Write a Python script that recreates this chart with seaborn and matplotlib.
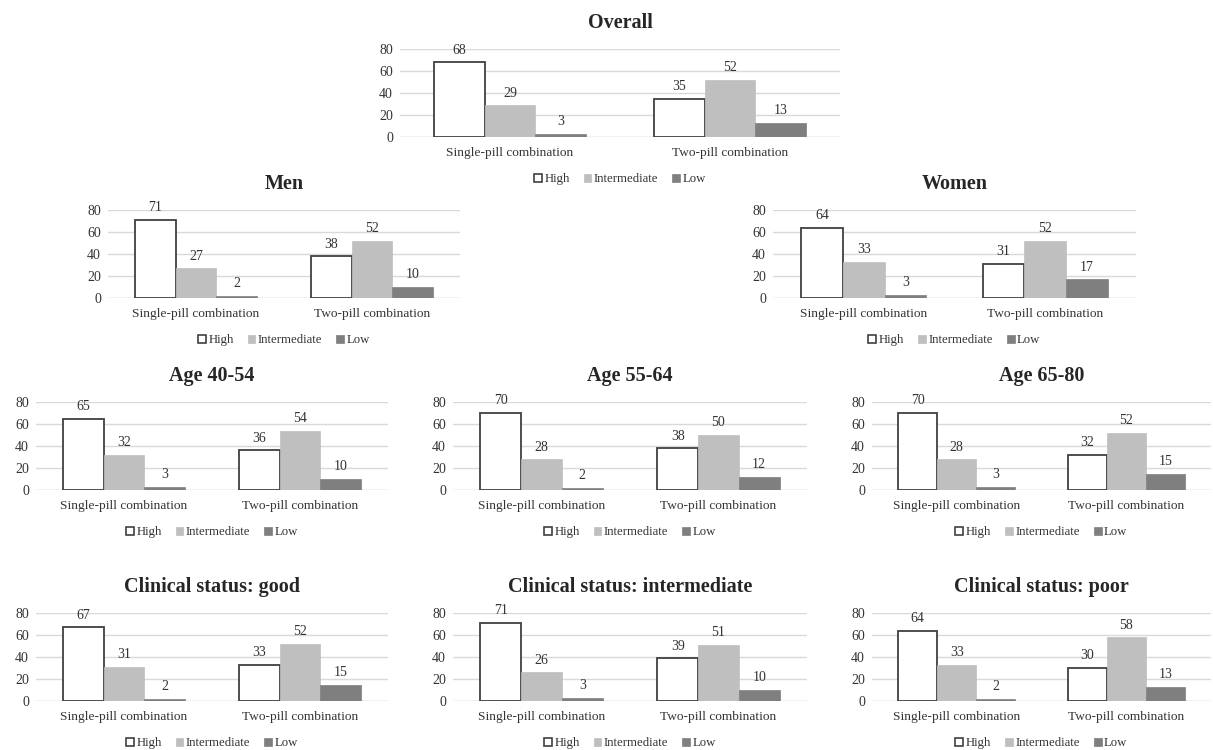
# Adherence by pill combination, overall and by subgroup
import pandas as pd
import matplotlib.pyplot as plt
import seaborn as sns
from matplotlib.patches import Patch

categories = ["Single-pill combination", "Two-pill combination"]
levels = ["High", "Intermediate", "Low"]

titles = ["Overall", "Men", "Women",
          "Age 40-54", "Age 55-64", "Age 65-80",
          "Clinical status: good", "Clinical status: intermediate", "Clinical status: poor"]

# values per panel: High, Intermediate, Low for [single, two]
high = [[68, 35], [71, 38], [64, 31], [65, 36], [70, 38], [70, 32], [67, 33], [71, 39], [64, 30]]
intermediate = [[29, 52], [27, 52], [33, 52], [32, 54], [28, 50], [28, 52], [31, 52], [26, 51], [33, 58]]
low = [[3, 13], [2, 10], [3, 17], [3, 10], [2, 12], [3, 15], [2, 15], [3, 10], [2, 13]]

yticks = [0, 20, 40, 60, 80]

fill_colors = {"High": "#ffffff", "Intermediate": "#bfbfbf", "Low": "#7f7f7f"}
edge_colors = {"High": "#404040", "Intermediate": "#bfbfbf", "Low": "#7f7f7f"}

# axes boxes in pixels: left, right, top (80 line), bottom (0 line)
W, H = 1213, 750
boxes = [(400, 840, 49, 137),
         (108, 460, 210, 298), (773, 1136, 210, 298),
         (36, 388, 402, 490), (453, 807, 402, 490), (872, 1211, 402, 490),
         (36, 388, 613, 701), (453, 807, 613, 701), (872, 1211, 613, 701)]

sns.set_style("white")
plt.rcParams['font.family'] = ['Liberation Serif', 'DejaVu Serif']

fig = plt.figure(figsize=(W / 100, H / 100), dpi=100)

for i, title in enumerate(titles):
    rows = []
    for lvl, vals in zip(levels, [high[i], intermediate[i], low[i]]):
        for cat, v in zip(categories, vals):
            rows.append({"Category": cat, "Level": lvl, "Value": v})
    df = pd.DataFrame(rows)

    l, r, t, b = boxes[i]
    ax = fig.add_axes([l / W, 1 - b / H, (r - l) / W, (b - t) / H])
    sns.barplot(data=df, x="Category", y="Value", hue="Level", hue_order=levels,
                palette=fill_colors, width=0.69, legend=False, ax=ax, zorder=3)

    for container, lvl in zip(ax.containers, levels):
        for bar in container:
            bar.set_edgecolor(edge_colors[lvl])
            bar.set_linewidth(1.3 if lvl == "High" else 0.5)
        ax.bar_label(container, fmt="%d", padding=4, fontsize=10,
                     color="#333333", clip_on=False)

    ax.set_ylim(0, 80)
    ax.set_yticks(yticks)
    ax.set_xlim(-0.5, 1.5)
    ax.yaxis.grid(True, color="#d9d9d9", linewidth=1, zorder=0)
    ax.set_axisbelow(True)
    for side in ["top", "right", "left", "bottom"]:
        ax.spines[side].set_visible(False)
    ax.axhline(0, color="#d9d9d9", linewidth=1, zorder=1)
    ax.tick_params(axis="both", length=0, colors="#333333")
    ax.tick_params(axis="x", pad=7, labelsize=9.6)
    ax.tick_params(axis="y", pad=5, labelsize=10)
    ax.set_xlabel("")
    ax.set_ylabel("")
    ax.set_title(title, fontsize=14.5, fontweight="bold", pad=15)

    handles = [Patch(facecolor=fill_colors[lvl], edgecolor=edge_colors[lvl],
                     linewidth=1.2 if lvl == "High" else 0.5) for lvl in levels]
    ax.legend(handles, levels, loc="center", bbox_to_anchor=(0.5, -0.48), ncol=3,
              frameon=False, fontsize=9.2, handlelength=0.6, handleheight=0.6,
              handletextpad=0.2, columnspacing=1.1, labelcolor="#333333")

fig.savefig("out.png", dpi=100)
